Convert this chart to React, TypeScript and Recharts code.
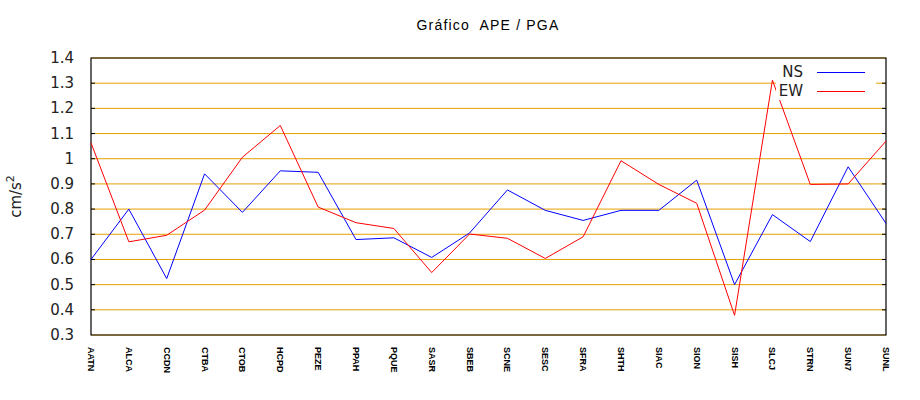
import React from 'react';
import { LineChart, Line, XAxis, YAxis, CartesianGrid, ReferenceArea, Legend } from 'recharts';

const stations = ['AATN', 'ALCA', 'CCDN', 'CTBA', 'CTOB', 'HCPD', 'PEZE', 'PPAH', 'PQUE', 'SASR', 'SBEB', 'SCNE', 'SESC', 'SFRA', 'SHTH', 'SIAC', 'SION', 'SISH', 'SLCJ', 'STRN', 'SUN7', 'SUNL'];
const nsValues = [0.60, 0.80, 0.524, 0.94, 0.787, 0.952, 0.946, 0.679, 0.686, 0.608, 0.705, 0.876, 0.795, 0.755, 0.795, 0.795, 0.915, 0.50, 0.778, 0.671, 0.968, 0.743];
const ewValues = [1.063, 0.67, 0.696, 0.796, 1.006, 1.132, 0.808, 0.746, 0.723, 0.548, 0.701, 0.684, 0.604, 0.69, 0.992, 0.898, 0.823, 0.378, 1.312, 0.898, 0.90, 1.07];
const yTicks = [0.3, 0.4, 0.5, 0.6, 0.7, 0.8, 0.9, 1.0, 1.1, 1.2, 1.3, 1.4];
const yTickLabels = ['0.3', '0.4', '0.5', '0.6', '0.7', '0.8', '0.9', '1', '1.1', '1.2', '1.3', '1.4'];
const seriesNames = ['NS', 'EW'];
const titleText = 'Gráfico  APE / PGA';

const data = stations.map((s, i) => ({ station: s, NS: nsValues[i], EW: ewValues[i] }));

const GRID = '#e6a000';
const NS_COLOR = '#0000ff';
const EW_COLOR = '#ff0000';

const LeftTick = (props: any) => {
  const { x, y, index } = props;
  const isEdge = index === 0 || index === yTicks.length - 1;
  return (
    <g>
      {!isEdge && <line x1={x} x2={x + 4} y1={y} y2={y} stroke="#000" strokeWidth={1} />}
      <text x={x - 17} y={y} textAnchor="end" dominantBaseline="central" fontFamily="DejaVu Sans" fontSize={15} fill="#222">
        {yTickLabels[index]}
      </text>
    </g>
  );
};

const RightTick = (props: any) => {
  const { x, y, index } = props;
  const isEdge = index === 0 || index === yTicks.length - 1;
  if (isEdge) return <g />;
  return <line x1={x - 4} x2={x} y1={y} y2={y} stroke="#000" strokeWidth={1} />;
};

const XTick = (props: any) => {
  const { x, y, payload } = props;
  return (
    <text
      transform={`translate(${x},${y + 12}) rotate(90)`}
      textAnchor="start"
      dominantBaseline="central"
      fontFamily="Liberation Sans"
      fontWeight="bold"
      fontSize={9}
      fill="#000"
    >
      {payload.value}
    </text>
  );
};

const YLabel = (props: any) => {
  const vb = props.viewBox || {};
  const cx = 16;
  const cy = vb.y + vb.height / 2;
  return (
    <text transform={`translate(${cx},${cy}) rotate(-90)`} textAnchor="middle" dominantBaseline="central" fontFamily="DejaVu Sans" fontSize={15} fill="#222">
      cm/s<tspan fontSize={11} dy={-6}>2</tspan>
    </text>
  );
};

const LegendContent = () => (
  <div style={{ background: '#fff', width: 100, height: 38, position: 'relative', fontFamily: 'DejaVu Sans', fontSize: 15, color: '#222' }}>
    {seriesNames.map((name, i) => (
      <div key={name} style={{ position: 'absolute', left: 0, top: 1 + i * 19, height: 19, width: 100 }}>
        <span style={{ position: 'absolute', right: 73, top: 0, lineHeight: '18px' }}>{name}</span>
        <span style={{ position: 'absolute', left: 41, width: 48, top: 9, height: 0, borderTop: `1px solid ${i === 0 ? NS_COLOR : EW_COLOR}` }} />
      </div>
    ))}
  </div>
);

export default function App() {
  return (
    <div style={{ position: 'absolute', left: 0, top: 0, width: 920, height: 400, background: '#fff' }}>
      <div style={{ position: 'absolute', left: 0, width: 976, top: 17, textAlign: 'center', fontFamily: 'Liberation Sans', fontSize: 14, letterSpacing: 1.2, whiteSpace: 'pre', color: '#000', zIndex: 2 }}>
        {titleText}
      </div>
      <LineChart width={920} height={400} data={data} margin={{ top: 58, right: 0, bottom: 0, left: 0 }}>
        <CartesianGrid yAxisId="left" vertical={false} stroke={GRID} strokeWidth={1} />
        <XAxis dataKey="station" type="category" height={65} padding={{ left: 0, right: 0 }} axisLine={false} tickLine={false} tickSize={0} tickMargin={0} interval={0} tick={<XTick />} />
        <YAxis yAxisId="left" type="number" domain={[0.3, 1.4]} ticks={yTicks} width={91} axisLine={false} tickLine={false} tickSize={0} tickMargin={0} interval={0} tick={<LeftTick />} allowDataOverflow label={<YLabel />} />
        <YAxis yAxisId="right" orientation="right" type="number" domain={[0.3, 1.4]} ticks={yTicks} width={34} axisLine={false} tickLine={false} tickSize={0} tickMargin={0} interval={0} tick={<RightTick />} allowDataOverflow />
        <ReferenceArea yAxisId="left" y1={0.3} y2={1.4} fill="none" stroke="#000" strokeWidth={1.2} ifOverflow="visible" />
        <Line yAxisId="left" type="linear" dataKey="NS" stroke={NS_COLOR} strokeWidth={1} dot={false} activeDot={false} isAnimationActive={false} />
        <Line yAxisId="left" type="linear" dataKey="EW" stroke={EW_COLOR} strokeWidth={1} dot={false} activeDot={false} isAnimationActive={false} />
        <Legend layout="vertical" align="center" verticalAlign="middle" content={<LegendContent />} wrapperStyle={{ position: 'absolute', left: 776, top: 62, width: 100, height: 38 }} />
      </LineChart>
    </div>
  );
}
